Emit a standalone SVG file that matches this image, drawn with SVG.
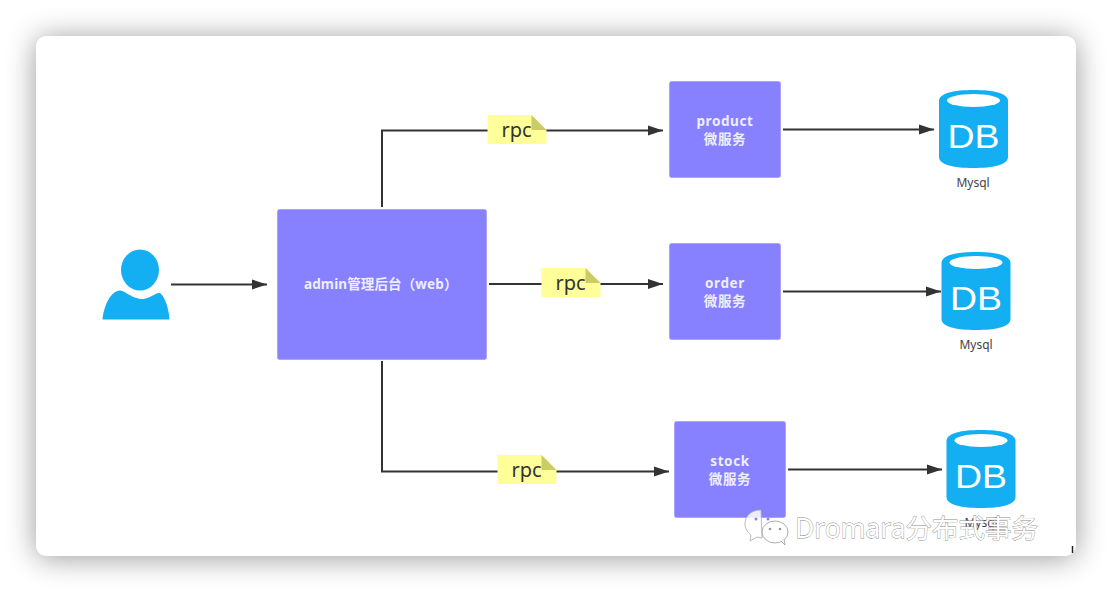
<svg xmlns="http://www.w3.org/2000/svg" width="1112" height="592" viewBox="0 0 1112 592">
<style>
.box{fill:#8781ff;stroke:#a9a5ff;stroke-width:1}
.lbl{font-family:"Noto Sans","Noto Sans CJK SC",sans-serif;font-size:13.5px;font-weight:700;fill:#eeeeff;text-anchor:middle;letter-spacing:.6px}
.line{fill:none;stroke:#333;stroke-width:2}
.db{fill:#14aff2}
.dbt{font-family:"Liberation Sans",sans-serif;font-size:33px;fill:#fff;text-anchor:middle}
.my{font-family:"Noto Sans",sans-serif;font-size:12px;fill:#444;text-anchor:middle}
.rpc{font-family:"Noto Sans",sans-serif;font-size:20px;fill:#333;text-anchor:middle}
.wm{font-family:"Noto Sans","Noto Sans CJK SC",sans-serif;font-size:26.5px;fill:#fff;stroke:#8a8a8a;stroke-width:.8;paint-order:stroke}
</style>
<defs>
<filter id="sh" x="-10%" y="-15%" width="120%" height="130%"><feGaussianBlur stdDeviation="15"/></filter>
<marker id="arr" markerUnits="userSpaceOnUse" markerWidth="16" markerHeight="12" refX="15" refY="6" orient="auto"><path d="M0 1 L15 6 L0 11Z" fill="#333"/></marker>
<g id="cyl">
<path class="db" d="M0 11 C0 3 15 0 34.500 0 C54 0 69 3 69 11 V67 C69 75 54 78 34.500 78 C15 78 0 75 0 67Z"/>
<ellipse cx="34.500" cy="10.500" rx="26.500" ry="6.500" fill="#fff"/>
<text class="dbt" x="34.500" y="58" textLength="52" lengthAdjust="spacingAndGlyphs">DB</text>
</g>
<g id="note">
<path d="M0 0 H44 L59 15 V29 H0Z" fill="#ffff99"/>
<path d="M44 0 L59 15 H44Z" fill="#cccc66"/>
<text class="rpc" x="29" y="22">rpc</text>
</g>
</defs>
<rect width="1112" height="592" fill="#fff"/>
<rect x="36" y="38" width="1040" height="520" rx="10" fill="#000" opacity=".4" filter="url(#sh)"/>
<rect id="panel" x="36" y="36" width="1040" height="520" rx="10" fill="#fff"/>

<g id="connectors">
<path class="line" d="M171 284.500 H267" marker-end="url(#arr)"/>
<path class="line" d="M382 207 V130.500 H663" marker-end="url(#arr)"/>
<path class="line" d="M489 284 H663" marker-end="url(#arr)"/>
<path class="line" d="M382 361 V471.500 H669" marker-end="url(#arr)"/>
<path class="line" d="M783 129.500 H934" marker-end="url(#arr)"/>
<path class="line" d="M783 291.500 H941" marker-end="url(#arr)"/>
<path class="line" d="M788 469.500 H942" marker-end="url(#arr)"/>
</g>

<g id="user">
<ellipse cx="140" cy="270" rx="19" ry="20.500" fill="#14aff2"/>
<path d="M102.500 319.500 C104 305 111 291 120 290.500 C126 291 132 299 143 299 C151 298 156 292 160 293 C165 297 169 309 169.500 319.500Z" fill="#14aff2"/>
</g>
<g id="admin"><rect class="box" x="277.500" y="209.500" width="209" height="150" rx="2"/><text class="lbl" x="381" y="289" textLength="154">admin管理后台（web）</text></g>
<g id="product"><rect class="box" x="669.500" y="81.500" width="111" height="96" rx="2"/><text class="lbl" x="725" y="126">product</text><text class="lbl" x="725" y="144">微服务</text></g>
<g id="order"><rect class="box" x="669.500" y="243.500" width="111" height="96" rx="2"/><text class="lbl" x="725" y="288">order</text><text class="lbl" x="725" y="306">微服务</text></g>
<g id="stock"><rect class="box" x="674.500" y="421.500" width="111" height="96" rx="2"/><text class="lbl" x="730" y="466">stock</text><text class="lbl" x="730" y="484">微服务</text></g>

<g id="rpc1"><use href="#note" x="487.500" y="115"/></g>
<g id="rpc2"><use href="#note" x="541.500" y="268"/></g>
<g id="rpc3"><use href="#note" x="497.500" y="455"/></g>

<g id="db1"><use href="#cyl" x="939" y="90"/><text class="my" x="973" y="187">Mysql</text></g>
<g id="db2"><use href="#cyl" x="941.500" y="252"/><text class="my" x="976" y="349">Mysql</text></g>
<g id="db3"><use href="#cyl" x="946.500" y="430"/><text class="my" x="981" y="527">Mysql</text></g>

<g id="watermark">
<path d="M761 510 C750 510 745 517 745 524 C745 530 749 533 751 535 L750 541 L757 537 L762 538 Z" fill="#fff" fill-opacity=".85" stroke="#aaa" stroke-width=".8"/>
<ellipse cx="775" cy="532" rx="13" ry="11" fill="#fff" stroke="#999" stroke-width=".8"/>
<path d="M781 541 L785 545 L784 539" fill="#fff" stroke="#999" stroke-width=".8"/>
<circle cx="756" cy="519" r="1.500" fill="#8781ff"/><circle cx="768" cy="519" r="1.500" fill="#8781ff"/>
<circle cx="770" cy="529" r="1.300" fill="#999"/><circle cx="780" cy="529" r="1.300" fill="#999"/>
<text class="wm" x="795" y="538" textLength="243">Dromara分布式事务</text>
</g>
<path d="M1072.500 546 V553" stroke="#222" stroke-width="1.500"/>
</svg>
